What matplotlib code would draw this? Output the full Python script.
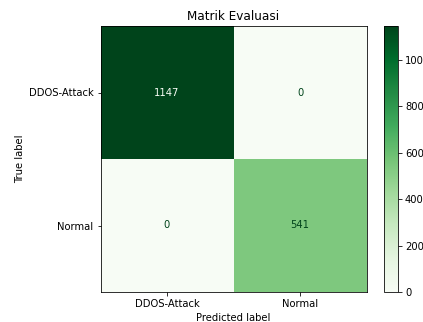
import numpy as np
import matplotlib
matplotlib.use("Agg")
import matplotlib.pyplot as plt

# confusion matrix values
labels = ["DDOS-Attack", "Normal"]
cm = np.array([[1147, 0],
               [0, 541]])

fig = plt.figure(figsize=(423 / 72, 322 / 72), dpi=72)
ax = fig.add_axes([100 / 423, 1 - 292 / 322, 267 / 423, 266 / 322])
cax = fig.add_axes([383.5 / 423, 1 - 292 / 322, 14.5 / 423, 266 / 322])

cmap = plt.cm.Greens
im = ax.imshow(cm, interpolation="nearest", cmap=cmap, vmin=cm.min(), vmax=cm.max())
fig.colorbar(im, cax=cax)

# text colour flips at the middle of the range
thresh = (cm.max() + cm.min()) / 2.0
for i in range(cm.shape[0]):
    for j in range(cm.shape[1]):
        color = cmap(0) if cm[i, j] > thresh else cmap(1.0)
        ax.text(j, i, f"{cm[i, j]}", ha="center", va="center", color=color)

ax.set_xticks(np.arange(len(labels)), labels)
ax.set_yticks(np.arange(len(labels)), labels)
ax.set_xlabel("Predicted label")
ax.set_ylabel("True label")
ax.set_title("Matrik Evaluasi")

fig.savefig("out.png", dpi=72)
